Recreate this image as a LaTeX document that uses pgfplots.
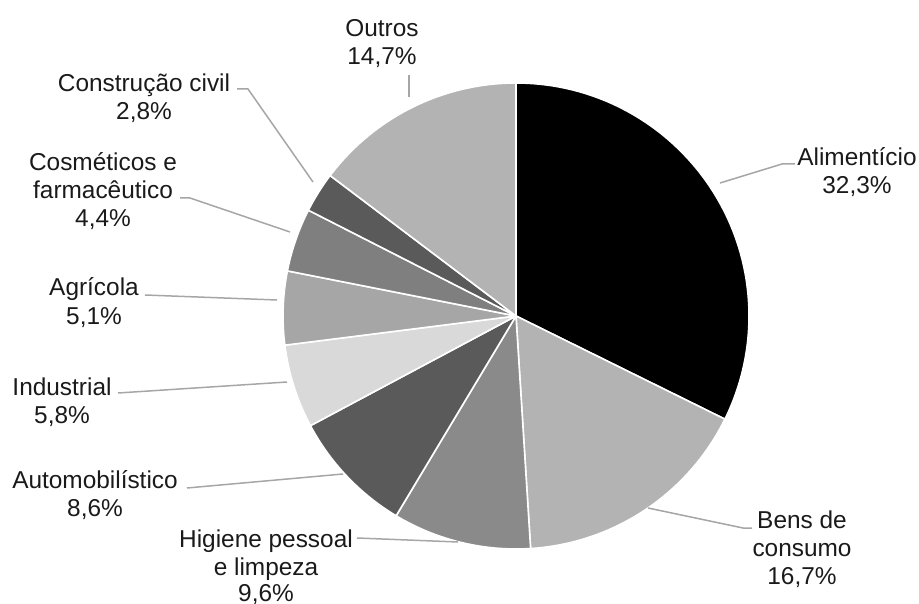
\documentclass[border=0pt]{standalone}
\usepackage{pgfplots}
\pgfplotsset{compat=1.18}
\usepackage{fontspec}
\setmainfont{Liberation Sans}
% data (percent), clockwise from the top
\def\vA{32.3}% Alimenticio
\def\vB{16.7}% Bens de consumo
\def\vC{9.6}%  Higiene pessoal e limpeza
\def\vD{8.6}%  Automobilistico
\def\vE{5.8}%  Industrial
\def\vF{5.1}%  Agricola
\def\vG{4.4}%  Cosmeticos e farmaceutico
\def\vH{2.8}%  Construcao civil
\def\vI{14.7}% Outros
\pgfmathsetmacro\aA{90}
\pgfmathsetmacro\aB{\aA-3.6*\vA}
\pgfmathsetmacro\aC{\aB-3.6*\vB}
\pgfmathsetmacro\aD{\aC-3.6*\vC}
\pgfmathsetmacro\aE{\aD-3.6*\vD}
\pgfmathsetmacro\aF{\aE-3.6*\vE}
\pgfmathsetmacro\aG{\aF-3.6*\vF}
\pgfmathsetmacro\aH{\aG-3.6*\vG}
\pgfmathsetmacro\aI{\aH-3.6*\vH}
\pgfmathsetmacro\aJ{\aI-3.6*\vI}
\definecolor{cA}{HTML}{000000}
\definecolor{cB}{HTML}{B3B3B3}
\definecolor{cC}{HTML}{8A8A8A}
\definecolor{cD}{HTML}{5A5A5A}
\definecolor{cE}{HTML}{D9D9D9}
\definecolor{cF}{HTML}{A6A6A6}
\definecolor{cG}{HTML}{7F7F7F}
\definecolor{cH}{HTML}{5A5A5A}
\definecolor{cI}{HTML}{B3B3B3}
\definecolor{leader}{HTML}{A6A6A6}
\definecolor{txt}{HTML}{1A1A1A}
\tikzset{lbl/.style={font=\fontsize{24.4pt}{28pt}\selectfont, text=txt, inner sep=0pt, anchor=base}}
\newcommand{\slice}[3]{\fill[fill=#3, draw=white, line width=1.6pt, line join=round] (axis cs:516,316) -- ++(#1:233pt) arc[start angle=#1, end angle=#2, radius=233pt] -- cycle;}
\begin{document}
\begin{tikzpicture}
\begin{axis}[x=1pt, y=1pt, y dir=reverse, xmin=0, xmax=919, ymin=0, ymax=604,
  hide axis, clip=false]
\coordinate (ll) at (axis cs:0,604);
\coordinate (ur) at (axis cs:919,0);
\slice{\aA}{\aB}{cA}
\slice{\aB}{\aC}{cB}
\slice{\aC}{\aD}{cC}
\slice{\aD}{\aE}{cD}
\slice{\aE}{\aF}{cE}
\slice{\aF}{\aG}{cF}
\slice{\aG}{\aH}{cG}
\slice{\aH}{\aI}{cH}
\slice{\aI}{\aJ}{cI}
% leader lines
\draw[leader, line width=1.5pt] (axis cs:409,75) -- (axis cs:409,97);
\draw[leader, line width=1.5pt] (axis cs:795,164) -- (axis cs:782,164) -- (axis cs:720,183);
\draw[leader, line width=1.5pt] (axis cs:752,528) -- (axis cs:743,528) -- (axis cs:648,508);
\draw[leader, line width=1.5pt] (axis cs:357,538) -- (axis cs:458,542);
\draw[leader, line width=1.5pt] (axis cs:187,488) -- (axis cs:343,474);
\draw[leader, line width=1.5pt] (axis cs:118,393) -- (axis cs:287,382);
\draw[leader, line width=1.5pt] (axis cs:145,295) -- (axis cs:277,300);
\draw[leader, line width=1.5pt] (axis cs:180,198) -- (axis cs:190,198) -- (axis cs:290,232);
\draw[leader, line width=1.5pt] (axis cs:237,89) -- (axis cs:248,89) -- (axis cs:313,182);
% labels
\node[lbl] at (axis cs:382,37) {Outros};
\node[lbl] at (axis cs:382,65) {14,7\%};
\node[lbl] at (axis cs:857,166) {Alimentício};
\node[lbl] at (axis cs:857,194) {32,3\%};
\node[lbl] at (axis cs:802,528) {Bens de};
\node[lbl] at (axis cs:802,556) {consumo};
\node[lbl] at (axis cs:802,584) {16,7\%};
\node[lbl] at (axis cs:266,547) {Higiene pessoal};
\node[lbl] at (axis cs:266,575) {e limpeza};
\node[lbl] at (axis cs:266,601) {9,6\%};
\node[lbl] at (axis cs:95,488) {Automobilístico};
\node[lbl] at (axis cs:95,516) {8,6\%};
\node[lbl] at (axis cs:62,395) {Industrial};
\node[lbl] at (axis cs:62,423) {5,8\%};
\node[lbl] at (axis cs:94,296) {Agrícola};
\node[lbl] at (axis cs:94,324) {5,1\%};
\node[lbl] at (axis cs:103,171) {Cosméticos e};
\node[lbl] at (axis cs:103,199) {farmacêutico};
\node[lbl] at (axis cs:103,227) {4,4\%};
\node[lbl] at (axis cs:144,92) {Construção civil};
\node[lbl] at (axis cs:144,120) {2,8\%};
\end{axis}
\pgfresetboundingbox
\path (ll) rectangle (ur);
\end{tikzpicture}
\end{document}
